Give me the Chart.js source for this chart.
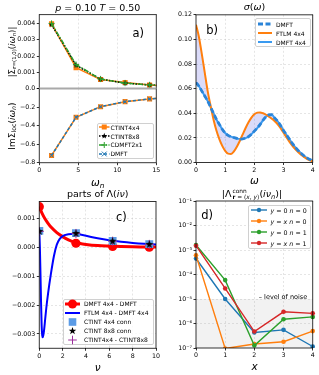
<!DOCTYPE html>
<html><head><meta charset="utf-8">
<script src="https://cdn.jsdelivr.net/npm/chart.js@4"></script>
<style>
html,body{margin:0;padding:0;background:#fff;}
#root{position:relative;width:319px;height:375px;overflow:hidden;font-family:"DejaVu Sans",sans-serif;color:#000;background:#fff;}
canvas{position:absolute;left:0;top:0;}
.t{position:absolute;white-space:nowrap;transform:translate(-50%,-50%);line-height:1;}
.rot{transform:translate(-50%,-50%) rotate(-90deg);}
sub{font-size:70%;vertical-align:-0.3em;line-height:0;}
.sm sub{font-size:62%;}
.ss{display:inline-flex;flex-direction:column;font-size:62%;line-height:1.1;vertical-align:middle;margin-left:1px;}
.lg{position:absolute;border:0.8px solid #d0d0d0;border-radius:2px;background:rgba(255,255,255,0.8);box-sizing:border-box;}
.row{position:absolute;display:flex;align-items:center;white-space:nowrap;height:10px;}
</style></head><body><div id="root"></div>
<script>
// ================= DATA =================
// panel a (top): |Sigma_r=(1,0)(i w_n)|, (bottom): Im Sigma_loc(i w_n)
const wnA = [1.571, 4.712, 7.854, 10.996, 14.137, 17.279];
const sigR_CTINT4x4 = [0.00398, 0.00128, 0.00055, 0.00037, 0.00021, 0.00015];
const sigR_CTINT8x8 = [0.00393, 0.00143, 0.00058, 0.00033, 0.00022, 0.00016];
const sigR_CDMFT2x1 = [0.00401, 0.00147, 0.00058, 0.00033, 0.00022, 0.00016];
const imSigLoc_CTINT4x4 = [-0.722, -0.310, -0.196, -0.142, -0.112, -0.093];
const imSigLoc_DMFT = [-0.722, -0.310, -0.196, -0.142, -0.112, -0.093];
const aXTicks = [0, 5, 10, 15];
const aTopTicks = [0, 0.001, 0.002, 0.003, 0.004];
const aBotTicks = [-0.8, -0.6, -0.4, -0.2, 0];
const zeroLineX = [0, 15];
const zeroLineY = [0, 0];

// panel b: sigma(omega)
const omegaB = [0,0.1,0.2,0.3,0.4,0.5,0.6,0.7,0.8,0.9,1.0,1.1,1.2,1.3,1.4,1.5,1.6,1.7,1.8,1.9,2.0,2.1,2.2,2.3,2.4,2.5,2.6,2.7,2.8,2.9,3.0,3.1,3.2,3.3,3.4,3.5,3.6,3.7,3.8,3.9,4.0];
const sigma_FTLM4x4 = [0.112,0.102,0.088,0.073,0.058,0.046,0.035,0.026,0.019,0.0135,0.0095,0.0072,0.0070,0.0090,0.0128,0.0175,0.0228,0.0280,0.0327,0.0365,0.0392,0.0405,0.0407,0.0400,0.0388,0.0372,0.0355,0.0335,0.0310,0.0278,0.0242,0.0205,0.0170,0.0138,0.0110,0.0085,0.0063,0.0045,0.0030,0.0018,0.0008];
const sigma_DMFT = [0.065,0.062,0.058,0.054,0.050,0.045,0.040,0.035,0.031,0.027,0.024,0.022,0.021,0.0203,0.0195,0.0190,0.0192,0.0198,0.0210,0.0230,0.0255,0.0280,0.0310,0.0345,0.0372,0.0387,0.0388,0.0360,0.0335,0.0300,0.0260,0.0225,0.0190,0.0155,0.0125,0.0098,0.0075,0.0055,0.0038,0.0025,0.0015];
const bXTicks = [0, 1, 2, 3, 4];
const bYTicks = [0, 0.02, 0.04, 0.06, 0.08, 0.10, 0.12];

// panel c: parts of Lambda(i nu)
const nuRed = [0,0.25,0.5,0.75,1,1.5,2,2.5,3,3.5,4,5,6,7,8,9,10];
const lam_DMFT4x4_minus_DMFT = [0.00142,0.00118,0.00099,0.00084,0.00071,0.00052,0.00038,0.00027,0.00019,0.00014,0.00011,0.00007,0.00005,0.000035,0.000025,0.00002,0.000015];
const nuBlue = [0,0.05,0.1,0.15,0.2,0.25,0.3,0.4,0.5,0.6,0.75,1.0,1.25,1.5,1.75,2.0,2.5,3.0,3.5,4,5,6,7,8,9,10];
const lam_FTLM4x4_minus_DMFT4x4 = [0.00058,0.0000,-0.0009,-0.0019,-0.0027,-0.00305,-0.00312,-0.0029,-0.0025,-0.0021,-0.0016,-0.0009,-0.0003,0.0001,0.0003,0.0004,0.00046,0.00048,0.00045,0.00041,0.00032,0.00025,0.0002,0.00016,0.00013,0.00011];
const nuBos = [0, 3.1416, 6.2832, 9.4248];
const lamPts_DMFT4x4_minus_DMFT = [0.00142, 0.00015, 0.00004, 0.00001];
const lamPts_CTINT4x4conn = [0.00058, 0.00050, 0.00023, 0.00012];
const lamPts_CTINT8x8conn = [0.00056, 0.00049, 0.00022, 0.00011];
const lamPts_CTINT4x4_minus_8x8 = [0.00056, 0.00049, 0.00022, 0.00011];
const cXTicks = [0, 2, 4, 6, 8, 10];
const cYTicks = [-0.003, -0.002, -0.001, 0, 0.001];

// panel d: |Lambda^conn_r=(x,y)(i nu_n)|
const xD = [0, 1, 2, 3, 4];
const d_y0_n0 = [4.5e-4, 1.0e-5, 4.3e-7, 5.5e-7, 1.15e-7];
const d_yx_n0 = [6.1e-4, 9.5e-8, 1.45e-7, 1.8e-7, 4.9e-7];
const d_y0_n1 = [1.6e-3, 5.9e-5, 1.26e-7, 1.5e-6, 1.86e-6];
const d_yx_n1 = [1.5e-3, 2.7e-5, 4.7e-7, 3.0e-6, 2.6e-6];
const noiseX = [0, 4];
const noiseLevel = [1e-5, 1e-5];
const dXTicks = [0, 1, 2, 3, 4];
const dYTicks = [1e-7, 1e-6, 1e-5, 1e-4, 1e-3, 1e-2, 1e-1];
const dYTickLabels = ['10\u207B\u2077','10\u207B\u2076','10\u207B\u2075','10\u207B\u2074','10\u207B\u00B3','10\u207B\u00B2','10\u207B\u00B9'];

// ================= HELPERS =================
const W = 319, H = 375, YW = 30, XH = 14;
const GRIDC = 'rgba(176,176,176,0.55)';
const root = document.getElementById('root');
const MINUS = '\u2212';
const fmtN = d => v => (v < 0 ? MINUS : '') + Math.abs(v).toFixed(d);
const xy = (xs, ys) => xs.map((x, i) => ({x: x, y: ys[i]}));

function starImg(r, color) {
  const s = Math.ceil(2 * r + 2);
  const c = document.createElement('canvas'); c.width = s; c.height = s;
  const g = c.getContext('2d'); g.fillStyle = color; g.beginPath();
  for (let i = 0; i < 10; i++) {
    const rr = i % 2 ? r * 0.4 : r, a = -Math.PI / 2 + i * Math.PI / 5;
    g.lineTo(s / 2 + rr * Math.cos(a), s / 2 + rr * Math.sin(a));
  }
  g.closePath(); g.fill(); return c;
}

const framePlugin = {
  id: 'frame',
  afterDraw(ch, args, o) {
    const A = ch.chartArea, c = ch.ctx, s = (o && o.sides) || 'tlbr';
    c.save(); c.strokeStyle = '#000'; c.lineWidth = 0.8; c.setLineDash([]); c.beginPath();
    if (s.includes('t')) { c.moveTo(A.left - 0.4, A.top); c.lineTo(A.right + 0.4, A.top); }
    if (s.includes('b')) { c.moveTo(A.left - 0.4, A.bottom); c.lineTo(A.right + 0.4, A.bottom); }
    if (s.includes('l')) { c.moveTo(A.left, A.top); c.lineTo(A.left, A.bottom); }
    if (s.includes('r')) { c.moveTo(A.right, A.top); c.lineTo(A.right, A.bottom); }
    c.stroke(); c.restore();
  }
};

function ax(o) {
  const inside = v => o.type === 'logarithmic'
    ? (v > o.min * 1.001 && v < o.max / 1.001)
    : (v > o.min + (o.max - o.min) * 1e-6 && v < o.max - (o.max - o.min) * 1e-6);
  const show = o.labels !== false;
  return {
    type: o.type || 'linear', position: o.isY ? 'left' : 'bottom', min: o.min, max: o.max, bounds: 'data',
    afterFit: s => { if (o.isY) s.width = YW; else s.height = (o.h === undefined ? XH : o.h); },
    afterBuildTicks: s => { s.ticks = o.ticks.map(v => ({value: v})); },
    ticks: {display: show, autoSkip: false, maxRotation: 0, minRotation: 0, padding: 1.5, color: '#000',
      font: {family: 'DejaVu Sans', size: 6.3}, callback: (v, i) => o.fmt(v, i)},
    grid: {display: true, drawTicks: show, tickLength: 2.5, tickWidth: 0.8, tickColor: '#000', lineWidth: 0.6,
      color: c => (o.grid && c.tick && inside(c.tick.value)) ? GRIDC : 'rgba(0,0,0,0)', borderDash: [2, 2]},
    border: {display: false, dash: [2, 2]}
  };
}

function makeChart(area, datasets, xs, ys, sides) {
  const cv = document.createElement('canvas'); cv.width = W; cv.height = H; root.appendChild(cv);
  const xh = area.xh === undefined ? XH : area.xh;
  return new Chart(cv, {
    type: 'scatter',
    data: {datasets: datasets},
    options: {
      responsive: false, animation: false, devicePixelRatio: 1, events: [],
      layout: {padding: {left: area.l - YW, top: area.t, right: W - area.r, bottom: H - area.b - xh}},
      plugins: {legend: {display: false}, tooltip: {enabled: false}, frame: {sides: sides}, filler: {drawTime: 'beforeDatasetsDraw'}},
      scales: {x: xs, y: ys}
    },
    plugins: [framePlugin]
  });
}

function line(xs, ys, o) {
  return Object.assign({data: xy(xs, ys), showLine: true, borderWidth: 1.5, pointRadius: 0, fill: false}, o);
}

function T(html, x, y, fs, cls) {
  const d = document.createElement('div'); d.className = 't' + (cls ? ' ' + cls : '');
  d.style.left = x + 'px'; d.style.top = y + 'px'; d.style.fontSize = fs + 'px';
  d.innerHTML = html; root.appendChild(d);
}

function mkSvg(m, cx, cy, r, col) {
  if (!m) return '';
  if (m === 'rect') return `<rect x="${cx - r}" y="${cy - r}" width="${2 * r}" height="${2 * r}" fill="${col}"/>`;
  if (m === 'circle') return `<circle cx="${cx}" cy="${cy}" r="${r}" fill="${col}"/>`;
  if (m === 'star') {
    const p = [];
    for (let i = 0; i < 10; i++) { const rr = i % 2 ? r * 0.4 : r, a = -Math.PI / 2 + i * Math.PI / 5; p.push((cx + rr * Math.cos(a)).toFixed(2) + ',' + (cy + rr * Math.sin(a)).toFixed(2)); }
    return `<polygon points="${p.join(' ')}" fill="${col}"/>`;
  }
  if (m === 'plus') return `<path d="M${cx - r} ${cy}H${cx + r}M${cx} ${cy - r}V${cy + r}" stroke="${col}" stroke-width="1"/>`;
  if (m === 'x') return `<path d="M${cx - r} ${cy - r}L${cx + r} ${cy + r}M${cx - r} ${cy + r}L${cx + r} ${cy - r}" stroke="${col}" stroke-width="1"/>`;
  return '';
}

function legend(box, rows, o) {
  const d = document.createElement('div'); d.className = 'lg';
  d.style.cssText = `left:${box.l}px;top:${box.t}px;width:${box.r - box.l}px;height:${box.b - box.t}px`;
  root.appendChild(d);
  rows.forEach(r => {
    const row = document.createElement('div'); row.className = 'row';
    row.style.left = o.sx + 'px'; row.style.top = (r.cy - 5) + 'px';
    const sw = o.sw;
    const ln = r.lw ? `<line x1="0" y1="5" x2="${sw}" y2="5" stroke="${r.color}" stroke-width="${r.lw}"${r.dash ? ` stroke-dasharray="${r.dash}"` : ''}/>` : '';
    row.innerHTML = `<svg width="${sw}" height="10" style="overflow:visible;flex:none">${ln}${mkSvg(r.m, sw / 2, 5, r.ms, r.mc || r.color)}</svg><span style="margin-left:${o.tx - o.sx - sw}px;font-size:${o.fs}px">${r.label}</span>`;
    row.style.position = 'absolute';
    root.appendChild(row);
  });
}

// ================= PANEL A =================
const OR = '#ff7f0e', BL = '#1f77b4', GR = '#2ca02c', RD = '#d62728';
const clipA = {left: 10, top: 10, right: 0, bottom: 10};
const A_top = {l: 39.3, r: 156.3, t: 14.6, b: 88.5, xh: 0};
const A_bot = {l: 39.3, r: 156.3, t: 88.5, b: 162.7};
makeChart(A_top, [
  line(wnA, sigR_CDMFT2x1, {borderColor: GR, borderDash: [5, 1.5, 1.5, 1.5], pointStyle: 'cross', pointRadius: 3, pointBorderColor: GR, pointBorderWidth: 1, clip: clipA, order: 1}),
  line(wnA, sigR_CTINT8x8, {borderColor: '#000', borderDash: [1.5, 1.5], pointStyle: starImg(3.2, '#000'), pointRadius: 3.2, clip: clipA, order: 2}),
  line(wnA, sigR_CTINT4x4, {borderColor: OR, pointStyle: 'rect', pointRadius: 3.6, pointBackgroundColor: OR, pointBorderColor: OR, pointBorderWidth: 0, clip: clipA, order: 3})
],
  ax({min: 0, max: 15, ticks: aXTicks, grid: true, labels: false, h: 0, fmt: v => ''}),
  ax({isY: true, min: 0, max: 0.00455, ticks: aTopTicks, grid: false, fmt: v => v === 0 ? '' : v.toFixed(3)}),
  'tlr');

makeChart(A_bot, [
  line(zeroLineX, zeroLineY, {borderColor: '#a9a9a9', borderWidth: 2.2, clip: false, order: 0}),
  line(wnA, imSigLoc_DMFT, {borderColor: BL, borderDash: [3, 2], pointStyle: 'crossRot', pointRadius: 2.6, pointBorderColor: BL, pointBorderWidth: 1, clip: clipA, order: 1}),
  line(wnA, imSigLoc_CTINT4x4, {borderColor: OR, pointStyle: 'rect', pointRadius: 3.6, pointBackgroundColor: OR, pointBorderColor: OR, pointBorderWidth: 0, clip: clipA, order: 2})
],
  ax({min: 0, max: 15, ticks: aXTicks, grid: true, fmt: v => String(v)}),
  ax({isY: true, min: -0.8, max: 0, ticks: aBotTicks, grid: false, fmt: fmtN(1)}),
  'lbr');

// ================= PANEL B =================
const B = {l: 196, r: 312.7, t: 14.8, b: 162.5};
makeChart(B, [
  line(omegaB, sigma_DMFT, {borderColor: '#2a84d8', borderWidth: 2.8, borderDash: [5, 2.5], cubicInterpolationMode: 'monotone', order: 1}),
  line(omegaB, sigma_FTLM4x4, {borderColor: OR, borderWidth: 2, cubicInterpolationMode: 'monotone', fill: 2, backgroundColor: 'rgba(40,40,220,0.17)', order: 2}),
  line(omegaB, sigma_DMFT, {borderColor: '#3a9af0', borderWidth: 2, cubicInterpolationMode: 'monotone', order: 3})
],
  ax({min: 0, max: 4, ticks: bXTicks, grid: true, fmt: v => String(v)}),
  ax({isY: true, min: 0, max: 0.12, ticks: bYTicks, grid: true, fmt: fmtN(2)}),
  'tlbr');

// ================= PANEL C =================
const C = {l: 39.3, r: 156, t: 201.5, b: 348.3};
makeChart(C, [
  {data: xy(nuBos, lamPts_CTINT8x8conn), pointStyle: starImg(4.3, '#000'), pointRadius: 4.3, order: 1},
  {data: xy(nuBos, lamPts_CTINT4x4_minus_8x8), pointStyle: 'cross', pointRadius: 4.5, pointBorderColor: '#9b2d9b', pointBorderWidth: 1, order: 2},
  {data: xy(nuBos, lamPts_CTINT4x4conn), pointStyle: 'rect', pointRadius: 5.6, pointBackgroundColor: '#5b9be6', pointBorderWidth: 0, order: 3},
  line(nuBlue, lam_FTLM4x4_minus_DMFT4x4, {borderColor: '#0000ff', borderWidth: 2, cubicInterpolationMode: 'monotone', order: 4}),
  {data: xy(nuBos, lamPts_DMFT4x4_minus_DMFT), pointStyle: 'circle', pointRadius: 4.6, pointBackgroundColor: '#ff0000', pointBorderWidth: 0, order: 5},
  line(nuRed, lam_DMFT4x4_minus_DMFT, {borderColor: '#ff0000', borderWidth: 3, cubicInterpolationMode: 'monotone', order: 6})
],
  ax({min: 0, max: 10, ticks: cXTicks, grid: true, fmt: v => String(v)}),
  ax({isY: true, min: -0.0035, max: 0.0016, ticks: cYTicks, grid: true, fmt: fmtN(3)}),
  'tlbr');

// ================= PANEL D =================
const D = {l: 196, r: 312.7, t: 201, b: 348};
const clipD = {left: 10, top: 10, right: 10, bottom: 0};
const dStyle = c => ({borderColor: c, borderWidth: 1.4, pointStyle: 'circle', pointRadius: 2.3, pointBackgroundColor: c, pointBorderWidth: 0, clip: clipD});
makeChart(D, [
  line(xD, d_yx_n1, Object.assign(dStyle(RD), {order: 1})),
  line(xD, d_y0_n1, Object.assign(dStyle(GR), {order: 2})),
  line(xD, d_yx_n0, Object.assign(dStyle(OR), {order: 3})),
  line(xD, d_y0_n0, Object.assign(dStyle(BL), {order: 4})),
  line(noiseX, noiseLevel, {borderWidth: 0, borderColor: 'rgba(0,0,0,0)', fill: 'start', backgroundColor: 'rgba(128,128,128,0.1)', order: 10})
],
  ax({min: 0, max: 4, ticks: dXTicks, grid: true, fmt: v => String(v)}),
  ax({isY: true, type: 'logarithmic', min: 1e-7, max: 1e-1, ticks: dYTicks, grid: true, fmt: (v, i) => dYTickLabels[i]}),
  'tlbr');

// ================= TEXT =================
T('<i>p</i> = 0.10 <i>T</i> = 0.50', 97.8, 8.3, 9.5);
T('<i>σ</i>(<i>ω</i>)', 254.5, 6.8, 9.5);
T('parts of Λ(<i>iν</i>)', 97.7, 194.3, 9.5);
T('|Λ<span class="ss"><span>conn</span><span><b>r</b> = (<i>x</i>, <i>y</i>)</span></span>(<i>iν<sub>n</sub></i>)|', 252, 194, 9.5);
T('<i>ω<sub>n</sub></i>', 97.8, 181.5, 10.5);
T('<i>ω</i>', 254.5, 180, 10.5);
T('<i>ν</i>', 97.7, 366.5, 10.5);
T('<i>x</i>', 254.5, 366, 10.5);
T('|Σ<sub><b>r</b>=(1,0)</sub>(<i>iω<sub>n</sub></i>)|', 12, 51.5, 8.6, 'rot sm');
T('ImΣ<sub>loc</sub>(<i>iω<sub>n</sub></i>)', 12, 125.6, 9, 'rot');
T('a)', 138.3, 34, 11.5);
T('b)', 212.2, 30.7, 11.5);
T('c)', 121.3, 217.7, 11.5);
T('d)', 207.2, 215.7, 11.5);
T('– level of noise', 283, 296.7, 6.5);

// ================= LEGENDS =================
legend({l: 96.7, t: 122.7, r: 154.5, b: 159.2}, [
  {label: 'CTINT4x4', color: OR, lw: 1.5, m: 'rect', ms: 2.5, cy: 127.3},
  {label: 'CTINT8x8', color: '#000', lw: 1.5, dash: '1.5 1.5', m: 'star', ms: 3.2, cy: 136.1},
  {label: 'CDMFT2x1', color: GR, lw: 1.5, dash: '5 1.5 1.5 1.5', m: 'plus', ms: 3, cy: 144.9},
  {label: 'DMFT', color: BL, lw: 1.5, dash: '3 2', m: 'x', ms: 2.4, cy: 153.6}
], {sx: 98.5, sw: 10.5, tx: 110.5, fs: 6});

legend({l: 254.5, t: 18.3, r: 310.5, b: 47.5}, [
  {label: 'DMFT', color: '#2a84d8', lw: 2.8, dash: '5 2.5', cy: 24},
  {label: 'FTLM 4x4', color: OR, lw: 2, cy: 33},
  {label: 'DMFT 4x4', color: '#3a9af0', lw: 2, cy: 42}
], {sx: 258, sw: 14, tx: 276, fs: 6});

legend({l: 63.3, t: 298.5, r: 154.3, b: 344.5}, [
  {label: 'DMFT 4x4 - DMFT', color: '#ff0000', lw: 3, m: 'circle', ms: 4.5, cy: 303.5},
  {label: 'FTLM 4x4 - DMFT 4x4', color: '#0000ff', lw: 2, cy: 312.6},
  {label: 'CTINT 4x4 conn', color: '#5b9be6', m: 'rect', ms: 3.8, cy: 321.6},
  {label: 'CTINT 8x8 conn', color: '#000', m: 'star', ms: 4, cy: 330.6},
  {label: 'CTINT4x4 - CTINT8x8', color: '#9b2d9b', m: 'plus', ms: 4.3, cy: 339.8}
], {sx: 65.3, sw: 15, tx: 84, fs: 6});

legend({l: 248.3, t: 204.5, r: 311.5, b: 249}, [
  {label: '<i>y</i> = 0 <i>n</i> = 0', color: BL, lw: 1.4, m: 'circle', ms: 2.2, cy: 210.3},
  {label: '<i>y</i> = <i>x</i> <i>n</i> = 0', color: OR, lw: 1.4, m: 'circle', ms: 2.2, cy: 221.3},
  {label: '<i>y</i> = 0 <i>n</i> = 1', color: GR, lw: 1.4, m: 'circle', ms: 2.2, cy: 232.3},
  {label: '<i>y</i> = <i>x</i> <i>n</i> = 1', color: RD, lw: 1.4, m: 'circle', ms: 2.2, cy: 243.3}
], {sx: 251, sw: 16, tx: 270.5, fs: 6.3});
</script>
</body></html>
